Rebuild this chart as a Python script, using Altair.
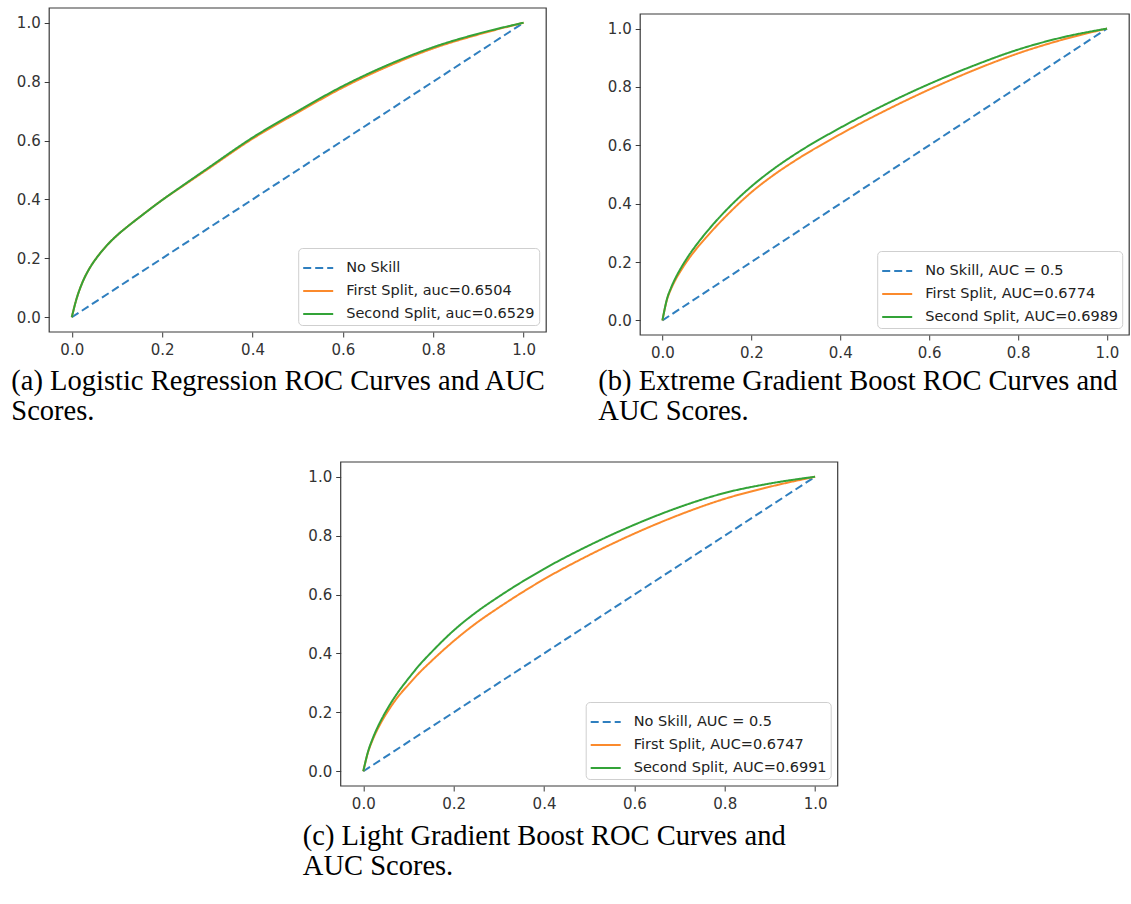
import altair as alt
import pandas as pd

# ---- ROC curve points (false positive rate -> true positive rate) ----
NO_SKILL_FPR = [0.0, 1.0]
NO_SKILL_TPR = [0.0, 1.0]

FPR = [0, 0.01, 0.02, 0.03, 0.04, 0.06, 0.08, 0.1, 0.125, 0.15, 0.2, 0.25, 0.3, 0.4, 0.5, 0.6, 0.7, 0.8, 0.9, 1.0]

TPR_A_FIRST = [0, 0.06, 0.105, 0.14, 0.168, 0.212, 0.248, 0.278, 0.31, 0.34, 0.398, 0.45, 0.502, 0.606, 0.695, 0.78, 0.852, 0.913, 0.96, 1.0]
TPR_A_SECOND = [0, 0.06, 0.105, 0.14, 0.168, 0.212, 0.248, 0.278, 0.31, 0.34, 0.398, 0.452, 0.505, 0.61, 0.70, 0.785, 0.857, 0.917, 0.963, 1.0]

TPR_B_FIRST = [0, 0.07, 0.11, 0.141, 0.167, 0.213, 0.252, 0.287, 0.329, 0.368, 0.439, 0.498, 0.549, 0.638, 0.718, 0.791, 0.857, 0.915, 0.962, 1.0]
TPR_B_SECOND = [0, 0.072, 0.114, 0.147, 0.175, 0.224, 0.266, 0.304, 0.348, 0.388, 0.459, 0.519, 0.571, 0.66, 0.739, 0.81, 0.873, 0.928, 0.97, 1.0]

TPR_C_FIRST = [0, 0.062, 0.104, 0.138, 0.167, 0.217, 0.259, 0.294, 0.336, 0.373, 0.442, 0.503, 0.556, 0.652, 0.734, 0.807, 0.871, 0.925, 0.966, 1.0]
TPR_C_SECOND = [0, 0.064, 0.108, 0.144, 0.175, 0.229, 0.275, 0.315, 0.362, 0.403, 0.478, 0.54, 0.593, 0.687, 0.767, 0.837, 0.897, 0.945, 0.977, 1.0]

LABELS_A = ["No Skill", "First Split, auc=0.6504", "Second Split, auc=0.6529"]
LABELS_B = ["No Skill, AUC = 0.5", "First Split, AUC=0.6774", "Second Split, AUC=0.6989"]
LABELS_C = ["No Skill, AUC = 0.5", "First Split, AUC=0.6747", "Second Split, AUC=0.6991"]

CAPTION_A = ["(a) Logistic Regression ROC Curves and AUC", "Scores."]
CAPTION_B = ["(b) Extreme Gradient Boost ROC Curves and", "AUC Scores."]
CAPTION_C = ["(c) Light Gradient Boost ROC Curves and", "AUC Scores."]

TICKS = [0.0, 0.2, 0.4, 0.6, 0.8, 1.0]
COLORS = ["#2f7fbf", "#fb8a2c", "#33a338"]
DASHES = [[8, 4], [1, 0], [1, 0]]
AXIS_LO, AXIS_HI = -0.05, 1.05

FRAME = pd.DataFrame({"x0": [AXIS_LO], "x1": [AXIS_HI], "y0": [AXIS_LO], "y1": [AXIS_HI]})


def curves(labels, tpr_first, tpr_second):
    rows = []
    for x, y in zip(NO_SKILL_FPR, NO_SKILL_TPR):
        rows.append({"fpr": x, "tpr": y, "series": labels[0], "order": 0})
    for x, y in zip(FPR, tpr_first):
        rows.append({"fpr": x, "tpr": y, "series": labels[1], "order": 1})
    for x, y in zip(FPR, tpr_second):
        rows.append({"fpr": x, "tpr": y, "series": labels[2], "order": 2})
    return pd.DataFrame(rows)


def panel(df, labels, width, height, y_top, lines, dx, offset):
    xs = alt.Scale(domain=[AXIS_LO, AXIS_HI], nice=False, zero=False)
    ys = alt.Scale(domain=[AXIS_LO, y_top], nice=False, zero=False)
    x_axis = alt.Axis(values=TICKS, format=".1f", title=None)
    y_axis = alt.Axis(values=TICKS, format=".1f", title=None)
    legend = alt.Legend(
        title=None, orient="bottom-right", offset=7,
        symbolType="stroke", symbolSize=900, symbolStrokeWidth=2,
        labelFont="DejaVu Sans", labelFontSize=14.5, labelColor="#222",
        labelLimit=400, labelOffset=12, fillColor="rgba(255,255,255,0.85)",
        strokeColor="#cfcfcf", cornerRadius=4, padding=4, rowPadding=-1,
    )
    # axes frame (matplotlib-style box around the data limits)
    frame = alt.Chart(FRAME).mark_rect(fill="transparent", stroke="#3a3a3a", strokeWidth=1.2).encode(
        x=alt.X("x0:Q", scale=xs, axis=x_axis), x2="x1:Q",
        y=alt.Y("y0:Q", scale=ys, axis=y_axis), y2="y1:Q",
    )
    roc = alt.Chart(df).mark_line(strokeWidth=2, interpolate="monotone").encode(
        x=alt.X("fpr:Q", scale=xs, axis=x_axis),
        y=alt.Y("tpr:Q", scale=ys, axis=y_axis),
        color=alt.Color("series:N", scale=alt.Scale(domain=labels, range=COLORS), legend=legend),
        strokeDash=alt.StrokeDash("series:N", scale=alt.Scale(domain=labels, range=DASHES), legend=legend),
        order=alt.Order("order:Q"),
    )
    return alt.layer(frame, roc).properties(
        width=width, height=height,
        title=alt.TitleParams(
            text=lines, orient="bottom", anchor="start", frame="bounds",
            font="Liberation Serif", fontSize=28.5, fontWeight="normal",
            color="black", lineHeight=30, offset=offset, dx=dx,
        ),
    )


chart_a = panel(curves(LABELS_A, TPR_A_FIRST, TPR_A_SECOND), LABELS_A, 497, 324, AXIS_HI, CAPTION_A, -5, 10)
# panel (b): box starts 6 px lower than panel (a), so its y range reaches a little higher
chart_b = panel(curves(LABELS_B, TPR_B_FIRST, TPR_B_SECOND), LABELS_B, 489, 327,
                AXIS_HI + 6 / 321 * (AXIS_HI - AXIS_LO), CAPTION_B, -9, 7)
chart_c = panel(curves(LABELS_C, TPR_C_FIRST, TPR_C_SECOND), LABELS_C, 497, 324, AXIS_HI, CAPTION_C, -5, 11)

top_row = alt.hconcat(chart_a, chart_b, spacing=51).resolve_scale(
    color="independent", strokeDash="independent"
)

chart = alt.vconcat(top_row, chart_c, spacing=35, center=True).resolve_scale(
    color="independent", strokeDash="independent"
).properties(
    padding={"left": 11, "top": 7, "right": 0, "bottom": 0},
).configure_view(
    strokeOpacity=0,
).configure_axis(
    grid=False, domain=False, ticks=True, tickSize=5, tickColor="#3a3a3a",
    labelFont="DejaVu Sans", labelFontSize=15, labelColor="#333", labelPadding=4,
).configure_axisX(labelPadding=5)

chart.save("out.html", embed_options={"renderer": "svg", "actions": False})
